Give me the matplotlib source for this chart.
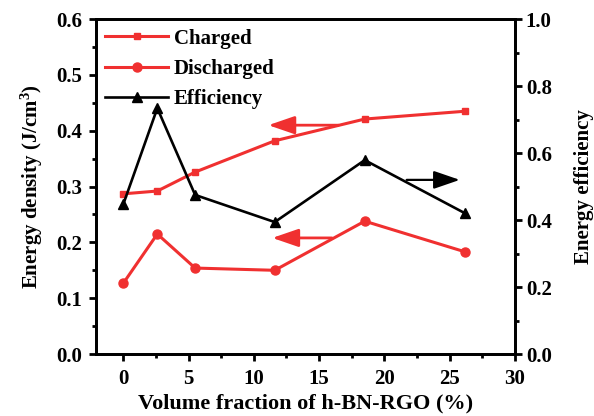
import numpy as np
import matplotlib.pyplot as plt
from matplotlib.ticker import MultipleLocator

plt.rcParams['font.family'] = ['Liberation Serif', 'DejaVu Serif']
plt.rcParams['font.weight'] = 'bold'
plt.rcParams['mathtext.default'] = 'regular'

# 数据
volume = [0, 2.6, 5.5, 11.6, 18.5, 26.2]
charged = [0.287, 0.292, 0.326, 0.382, 0.421, 0.435]
discharged = [0.127, 0.215, 0.154, 0.150, 0.238, 0.183]
efficiency = [0.448, 0.734, 0.475, 0.394, 0.579, 0.420]

red = '#f03030'

fig = plt.figure(figsize=(5.94, 4.16), dpi=100)
ax1 = fig.add_axes([0.1616, 0.149, 0.705, 0.805])
ax2 = ax1.twinx()

l1, = ax1.plot(volume, charged, color=red, marker='s', ms=5, lw=2.2, label='Charged')
l2, = ax1.plot(volume, discharged, color=red, marker='o', ms=6.5, lw=2.2, label='Discharged')
l3, = ax2.plot(volume, efficiency, color='black', marker='^', ms=6.5, lw=1.9, label='Efficiency')

ax1.set_xlim(-2.1, 30)
ax1.set_ylim(0, 0.6)
ax2.set_ylim(0, 1.0)

# 箭头
astyle = '-|>,head_length=1.6,head_width=0.55'
ax1.annotate('', xy=(10.9, 0.41), xytext=(16.7, 0.41),
             arrowprops=dict(arrowstyle=astyle, color=red, lw=2))
ax1.annotate('', xy=(11.2, 0.208), xytext=(16.2, 0.208),
             arrowprops=dict(arrowstyle=astyle, color=red, lw=2))
ax1.annotate('', xy=(26.0, 0.312), xytext=(21.5, 0.312),
             arrowprops=dict(arrowstyle=astyle, color='black', lw=1.6))

ax1.xaxis.set_major_locator(MultipleLocator(5))
ax1.xaxis.set_minor_locator(MultipleLocator(2.5))
ax1.yaxis.set_major_locator(MultipleLocator(0.1))
ax1.yaxis.set_minor_locator(MultipleLocator(0.05))
ax2.yaxis.set_major_locator(MultipleLocator(0.2))
ax2.yaxis.set_minor_locator(MultipleLocator(0.1))

for ax in (ax1, ax2):
    ax.tick_params(which='major', direction='out', length=5, width=2, labelsize=15, pad=3)
    ax.tick_params(which='minor', direction='out', length=3, width=2)
    for s in ax.spines.values():
        s.set_linewidth(2)
ax1.tick_params(top=False, which='both')
ax1.tick_params(axis='x', pad=6)
ax1.tick_params(axis='y', pad=5)
ax1.yaxis.set_major_formatter(plt.FormatStrFormatter('%.1f'))
ax2.yaxis.set_major_formatter(plt.FormatStrFormatter('%.1f'))

ax1.set_xlabel('Volume fraction of h-BN-RGO (%)', fontsize=16, fontweight='bold', labelpad=3)
ax1.set_ylabel('Energy density (J/cm$^3$)', fontsize=15, fontweight='bold', labelpad=8)
ax2.set_ylabel('Energy efficiency', fontsize=15, fontweight='bold', labelpad=16)

ax1.legend(handles=[l1, l2, l3], loc='upper left', frameon=False,
           handlelength=3.0, borderaxespad=0.05, labelspacing=0.5, handletextpad=0.3,
           prop={'weight': 'bold', 'size': 15})

fig.savefig('out.png', dpi=100)
